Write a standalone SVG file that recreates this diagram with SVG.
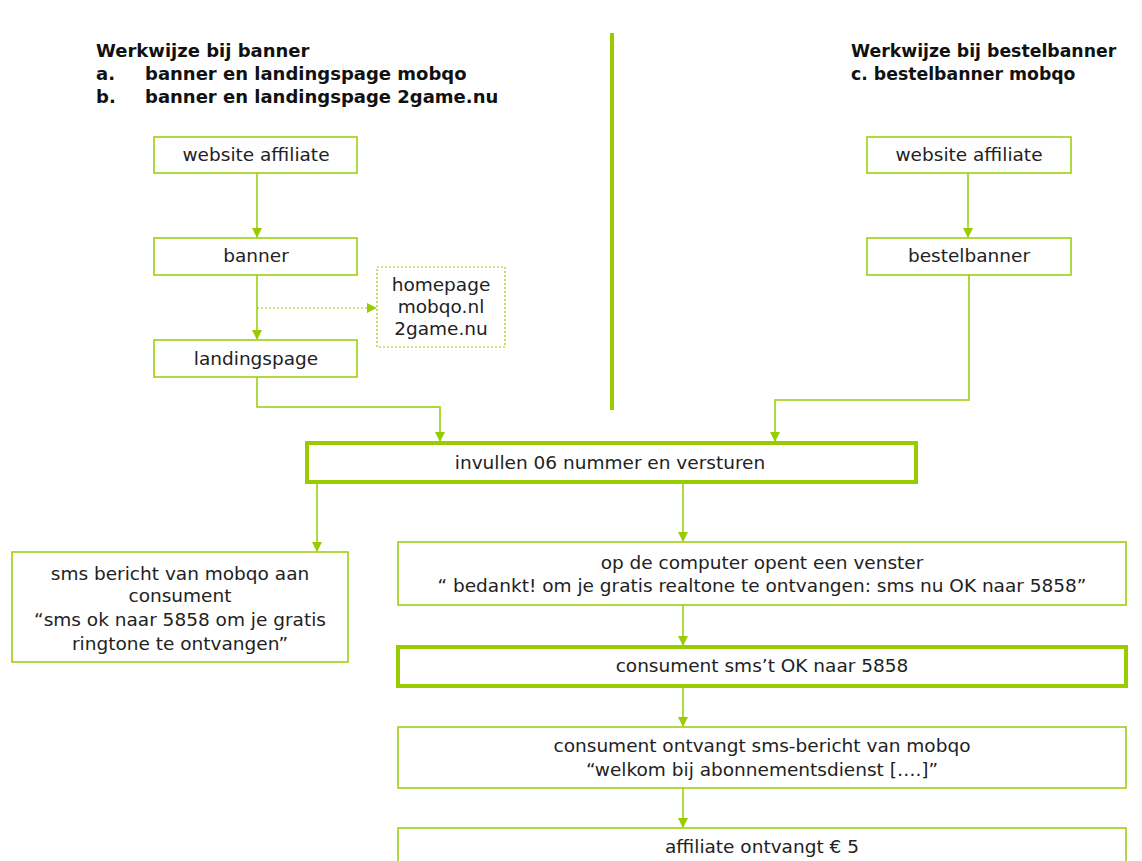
<svg xmlns="http://www.w3.org/2000/svg" width="1142" height="861" viewBox="0 0 1142 861">
<style>
.bg{fill:#ffffff}
.box{fill:#ffffff;stroke:#99cc00;stroke-width:1.5}
.thick{fill:#ffffff;stroke:#99cc00;stroke-width:4}
.dot{fill:#ffffff;stroke:#99cc00;stroke-width:1.2;stroke-dasharray:2 2}
.t{font-family:"DejaVu Sans","Liberation Sans",Arial,sans-serif;font-size:18.5px;fill:#222222;text-anchor:middle}
.h{font-family:"DejaVu Sans","Liberation Sans",Arial,sans-serif;font-size:18px;font-weight:bold;fill:#111111}
.hr{font-size:17.3px}
.c{fill:none;stroke:#99cc00;stroke-width:1.5}
.cd{fill:none;stroke:#99cc00;stroke-width:1.2;stroke-dasharray:2 2}
</style>
<defs>
<marker id="arr" markerWidth="10" markerHeight="10" refX="9" refY="5" orient="auto" markerUnits="userSpaceOnUse">
<path d="M0,0 L10,5 L0,10 z" fill="#99cc00"/>
</marker>
</defs>
<rect class="bg" x="0" y="0" width="1142" height="861"/>
<g id="headings">
<text class="h" x="96" y="57">Werkwijze bij banner</text>
<text class="h" x="96" y="80">a.</text>
<text class="h" x="145" y="80">banner en landingspage mobqo</text>
<text class="h" x="96" y="103">b.</text>
<text class="h" x="145" y="103">banner en landingspage 2game.nu</text>
<text class="h hr" x="851" y="57">Werkwijze bij bestelbanner</text>
<text class="h hr" x="851" y="80">c. bestelbanner mobqo</text>
</g>
<g id="divider">
<line x1="612" y1="33" x2="612" y2="410" stroke="#99cc00" stroke-width="4"/>
</g>
<g id="connectors">
<line class="c" x1="257" y1="173" x2="257" y2="237" marker-end="url(#arr)"/>
<line class="c" x1="257" y1="275" x2="257" y2="339" marker-end="url(#arr)"/>
<line class="cd" x1="257" y1="308" x2="376" y2="308" marker-end="url(#arr)"/>
<polyline class="c" points="257,377 257,407 440,407 440,441" marker-end="url(#arr)"/>
<line class="c" x1="968" y1="173" x2="968" y2="237" marker-end="url(#arr)"/>
<polyline class="c" points="969,275 969,400 775,400 775,441" marker-end="url(#arr)"/>
<line class="c" x1="317" y1="484" x2="317" y2="551" marker-end="url(#arr)"/>
<line class="c" x1="683" y1="484" x2="683" y2="541" marker-end="url(#arr)"/>
<line class="c" x1="683" y1="605" x2="683" y2="645" marker-end="url(#arr)"/>
<line class="c" x1="683" y1="688" x2="683" y2="726" marker-end="url(#arr)"/>
<line class="c" x1="683" y1="788" x2="683" y2="827" marker-end="url(#arr)"/>
</g>
<g id="website-affiliate-left">
<rect class="box" x="154" y="137" width="203" height="36"/>
<text class="t" x="256" y="161">website affiliate</text>
</g>
<g id="banner">
<rect class="box" x="154" y="238" width="203" height="37"/>
<text class="t" x="256" y="262">banner</text>
</g>
<g id="homepage">
<rect class="dot" x="377" y="267" width="128" height="80"/>
<text class="t" x="441" y="291">homepage</text>
<text class="t" x="441" y="313">mobqo.nl</text>
<text class="t" x="441" y="335">2game.nu</text>
</g>
<g id="landingspage">
<rect class="box" x="154" y="340" width="203" height="37"/>
<text class="t" x="256" y="365">landingspage</text>
</g>
<g id="website-affiliate-right">
<rect class="box" x="867" y="137" width="204" height="36"/>
<text class="t" x="969" y="161">website affiliate</text>
</g>
<g id="bestelbanner">
<rect class="box" x="867" y="238" width="204" height="37"/>
<text class="t" x="969" y="262">bestelbanner</text>
</g>
<g id="invullen">
<rect class="thick" x="307" y="443" width="609" height="39"/>
<text class="t" x="610" y="469">invullen 06 nummer en versturen</text>
</g>
<g id="sms-bericht">
<rect class="box" x="12" y="552" width="336" height="110"/>
<text class="t" x="180" y="580">sms bericht van mobqo aan</text>
<text class="t" x="180" y="602">consument</text>
<text class="t" x="180" y="626">“sms ok naar 5858 om je gratis</text>
<text class="t" x="180" y="650">ringtone te ontvangen”</text>
</g>
<g id="venster">
<rect class="box" x="398" y="542" width="728" height="63"/>
<text class="t" x="762" y="569">op de computer opent een venster</text>
<text class="t" x="762" y="592">“ bedankt! om je gratis realtone te ontvangen: sms nu OK naar 5858”</text>
</g>
<g id="consument-sms">
<rect class="thick" x="398" y="647" width="728" height="39"/>
<text class="t" x="762" y="672">consument sms’t OK naar 5858</text>
</g>
<g id="consument-ontvangt">
<rect class="box" x="398" y="727" width="728" height="61"/>
<text class="t" x="762" y="752">consument ontvangt sms-bericht van mobqo</text>
<text class="t" x="762" y="776">“welkom bij abonnementsdienst [….]”</text>
</g>
<g id="affiliate-ontvangt">
<rect class="box" x="398" y="828" width="728" height="40"/>
<text class="t" x="762" y="853">affiliate ontvangt € 5</text>
</g>
</svg>
